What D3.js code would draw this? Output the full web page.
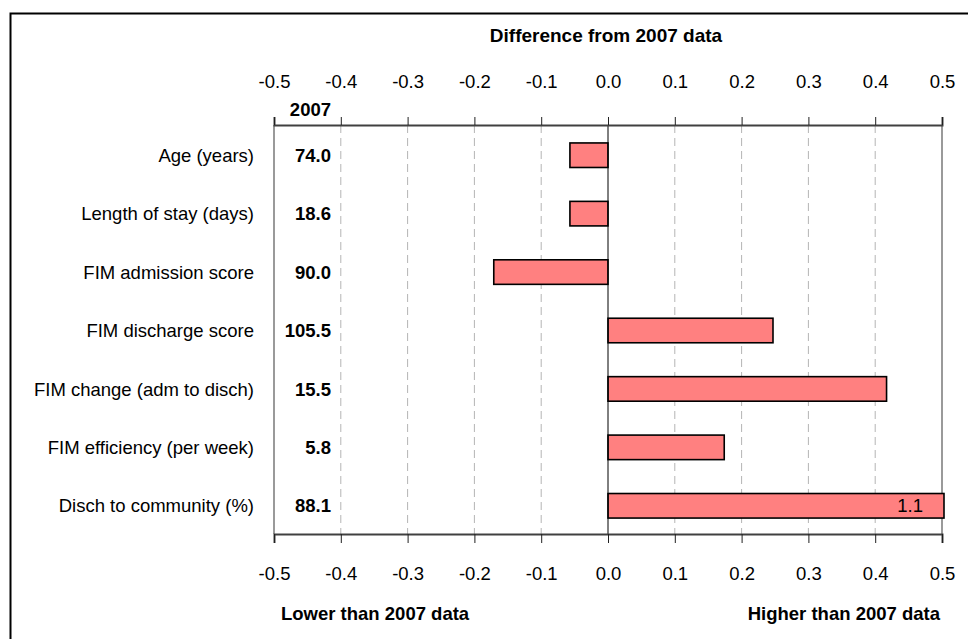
<!DOCTYPE html>
<html>
<head>
<meta charset="utf-8">
<script src="https://cdn.jsdelivr.net/npm/d3@7/dist/d3.min.js"></script>
<style>
  html, body { margin: 0; padding: 0; background: #fff; }
  svg { display: block; }
  text { font-family: "Liberation Sans", Arial, sans-serif; font-size: 18.5px; fill: #000; }
  .bold { font-weight: bold; }
</style>
</head>
<body>
<svg id="chart" width="968" height="639"></svg>
<script>
// ---- data ----
const categories = ["Age (years)", "Length of stay (days)", "FIM admission score", "FIM discharge score", "FIM change (adm to disch)", "FIM efficiency (per week)", "Disch to community (%)"];
const labels2007 = ["74.0", "18.6", "90.0", "105.5", "15.5", "5.8", "88.1"];
const differences = [-0.057, -0.057, -0.171, 0.247, 0.417, 0.174, 1.1];
const tickValues = [-0.5, -0.4, -0.3, -0.2, -0.1, 0.0, 0.1, 0.2, 0.3, 0.4, 0.5];
const xDomain = [-0.5, 0.5];

const svg = d3.select("#chart");
const W = 968, H = 639;
const plot = { left: 274, right: 942, top: 125, bottom: 534 };

// outer border
svg.append("rect")
  .attr("x", 10.5).attr("y", 13.5)
  .attr("width", W + 20).attr("height", H + 20)
  .attr("fill", "none").attr("stroke", "#000").attr("stroke-width", 2);

const x = d3.scaleLinear().domain(xDomain).range([plot.left, plot.right]).clamp(true);
const y = d3.scaleBand().domain(categories).range([plot.top + 1, plot.bottom + 1])
  .paddingInner(0.58).paddingOuter(0.29);

// gridlines
svg.append("g").selectAll("line")
  .data(tickValues.filter(d => d !== 0 && d !== xDomain[0] && d !== xDomain[1]))
  .join("line")
  .attr("x1", d => x(d)).attr("x2", d => x(d))
  .attr("y1", plot.top).attr("y2", plot.bottom)
  .attr("stroke", "#b4b4b4").attr("stroke-width", 1).attr("stroke-dasharray", "8,5");

// side borders of plot area
svg.append("g").selectAll("line")
  .data(xDomain)
  .join("line")
  .attr("x1", d => x(d)).attr("x2", d => x(d))
  .attr("y1", plot.top).attr("y2", plot.bottom)
  .attr("stroke", "#9a9a9a").attr("stroke-width", 2);

// bars
svg.append("g").selectAll("rect")
  .data(categories.map((c, i) => ({ c, v: differences[i] })))
  .join("rect")
  .attr("x", d => Math.min(x(0), x(d.v)))
  .attr("width", d => Math.abs(x(d.v) - x(0)) + (d.v > xDomain[1] ? 2 : 0))
  .attr("y", d => y(d.c))
  .attr("height", y.bandwidth())
  .attr("fill", "#ff8080").attr("stroke", "#000").attr("stroke-width", 1.6);

// zero line
svg.append("line")
  .attr("x1", x(0)).attr("x2", x(0))
  .attr("y1", plot.top).attr("y2", plot.bottom)
  .attr("stroke", "#000").attr("stroke-width", 1);

// overflow label
categories.forEach((c, i) => {
  if (differences[i] > xDomain[1]) {
    svg.append("text")
      .attr("x", x(xDomain[1]) - 19).attr("y", y(c) + y.bandwidth() / 2)
      .attr("dy", "0.36em").attr("text-anchor", "end")
      .text(d3.format(".1f")(differences[i]));
  }
});

const fmt = d => d.toFixed(1);

// top axis
const gTop = svg.append("g").attr("transform", `translate(0,${plot.top})`)
  .call(d3.axisTop(x).tickValues(tickValues).tickFormat(fmt).tickSize(8).tickPadding(29));
// bottom axis
const gBot = svg.append("g").attr("transform", `translate(0,${plot.bottom})`)
  .call(d3.axisBottom(x).tickValues(tickValues).tickFormat(fmt).tickSize(9).tickPadding(24));
[gTop, gBot].forEach(g => {
  g.select(".domain").attr("stroke", "#404040").attr("stroke-width", 2);
  g.selectAll(".tick line").attr("stroke", "#202020").attr("stroke-width", 1);
  g.selectAll("text").attr("font-family", null).attr("font-size", null).attr("fill", "#000");
});

// category labels
svg.append("g").selectAll("text")
  .data(categories)
  .join("text")
  .attr("x", 254).attr("y", d => y(d) + y.bandwidth() / 2)
  .attr("dy", "0.36em").attr("text-anchor", "end")
  .text(d => d);

// 2007 values
svg.append("g").selectAll("text")
  .data(categories.map((c, i) => ({ c, t: labels2007[i] })))
  .join("text")
  .attr("class", "bold")
  .attr("x", 331).attr("y", d => y(d.c) + y.bandwidth() / 2)
  .attr("dy", "0.36em").attr("text-anchor", "end")
  .text(d => d.t);

svg.append("text").attr("class", "bold")
  .attr("x", 331).attr("y", 116).attr("text-anchor", "end").text("2007");

// titles
svg.append("text").attr("class", "bold")
  .attr("x", 606).attr("y", 42).attr("text-anchor", "middle")
  .style("font-size", "19px")
  .text("Difference from 2007 data");

svg.append("text").attr("class", "bold")
  .attr("x", 281).attr("y", 620).attr("text-anchor", "start")
  .text("Lower than 2007 data");
svg.append("text").attr("class", "bold")
  .attr("x", 940).attr("y", 620).attr("text-anchor", "end")
  .text("Higher than 2007 data");
</script>
</body>
</html>
